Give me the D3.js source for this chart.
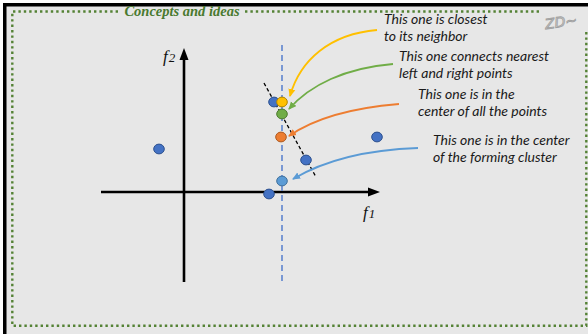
<!DOCTYPE html>
<meta charset="utf-8">
<head>
  <script src="https://d3js.org/d3.v7.min.js"></script>
  <style>
    body { margin: 0; background: #fff; }
    .note { font-family: Lato, "Open Sans", sans-serif; font-style: italic; font-size: 14px; fill: #1a1a1a; }
    .axisLabel { font-family: "Liberation Serif", serif; font-style: italic; fill: #111; }
  </style>
</head>
<body>
  <div id="chart"></div>
  <script>

    // points in the (f1, f2) plane
    var pointF1 = [-2.5, 8.5, 9.0, 9.8, 9.8, 9.7, 12.2, 9.8, 19.3];
    var pointF2 = [4.3, -0.2, 9.0, 9.0, 7.8, 5.5, 3.2, 1.1, 5.5];
    var pointKind = ["point", "point", "point", "closest", "connect", "centroid", "point", "cluster", "point"];

    // the vertical dashed guide and the black dashed fit line
    var guideF1 = 9.8;
    var guideF2 = [14.7, -9.1];
    var fitF1 = [8.0, 13.2];
    var fitF2 = [10.9, 1.5];

    // axis extent
    var axisF1 = [-8.3, 19.6];
    var axisF2 = [-9.0, 14.4];

    // notes and their curved arrows (start, control 1, control 2, end)
    var noteKind = ["closest", "connect", "centroid", "cluster"];
    var noteLines = [
      ["This one is closest", "to its neighbor"],
      ["This one connects nearest", "left and right points"],
      ["This one is in the", "center of all the points"],
      ["This one is in the center", "of the forming cluster"]
    ];
    var noteF1 = [20.0, 21.5, 23.4, 24.9];
    var noteF2 = [16.8, 13.1, 9.3, 4.7];
    var arrowF1 = [
      [19.3, 14.6, 11.6, 10.6],
      [20.9, 16.1, 12.6, 10.5],
      [21.5, 16.6, 12.8, 10.5],
      [23.4, 17.6, 13.6, 10.9]
    ];
    var arrowF2 = [
      [16.2, 15.8, 13.2, 9.6],
      [12.8, 12.4, 10.7, 8.3],
      [8.8, 8.4, 7.2, 5.6],
      [4.4, 4.2, 2.9, 1.3]
    ];

    var fillColor = { point: "#4472c4", closest: "#ffc000", connect: "#70ad47", centroid: "#ed7d31", cluster: "#5b9bd5" };
    var edgeColor = { point: "#2f528f", closest: "#b08600", connect: "#4e7a31", centroid: "#ae5a21", cluster: "#41719c" };
    var arrowColor = { closest: "#ffc000", connect: "#70ad47", centroid: "#ed7d31", cluster: "#5b9bd5" };

    var width = 588, height = 334;

    var svg = d3.select("#chart")
      .append("svg")
      .attr("width", width)
      .attr("height", height);

    // frame
    svg.append("rect").attr("x", 3).attr("y", 3).attr("width", width - 3).attr("height", height - 3).attr("fill", "#e7e7e7");
    svg.append("rect").attr("x", 3).attr("y", 3).attr("width", width - 3).attr("height", 3.5).attr("fill", "#000");
    svg.append("rect").attr("x", 3).attr("y", 3).attr("width", 3.5).attr("height", height - 3).attr("fill", "#000");

    function dots(sel) {
      return sel.attr("stroke", "#548235").attr("stroke-width", 2.4)
        .attr("stroke-dasharray", "2.4 3").attr("fill", "none");
    }
    dots(svg.append("path").attr("d", "M118,11.5 H12.3 V325.7 H586.3 V32"));
    dots(svg.append("path").attr("d", "M245,11.5 H542"));

    svg.append("text")
      .attr("x", 182).attr("y", 16)
      .attr("text-anchor", "middle")
      .style("font-family", "'Liberation Serif', serif")
      .style("font-style", "italic").style("font-weight", "bold")
      .style("font-size", "14.5px")
      .attr("fill", "#4a7a30")
      .text("Concepts and ideas");

    svg.append("text")
      .attr("x", 561).attr("y", 27)
      .attr("text-anchor", "middle")
      .style("font-family", "'DejaVu Sans', sans-serif")
      .style("font-style", "italic")
      .style("font-size", "14px")
      .attr("fill", "none").attr("stroke", "#a0a0a0").attr("stroke-width", 0.9)
      .attr("transform", "rotate(-8,561,22)")
      .text("ZD~");

    // scales: one unit is 10 px, origin where the axes cross
    var x = d3.scaleLinear().domain([0, 10]).range([184, 284]);
    var y = d3.scaleLinear().domain([0, 10]).range([192, 92]);

    var defs = svg.append("defs");
    defs.append("marker")
      .attr("id", "axisHead").attr("markerUnits", "userSpaceOnUse")
      .attr("viewBox", "0 -5 12 10").attr("refX", 0).attr("refY", 0)
      .attr("markerWidth", 12).attr("markerHeight", 10).attr("orient", "auto")
      .append("path").attr("d", "M0,-4.5L12,0L0,4.5Z").attr("fill", "#000");

    noteKind.forEach(function (k) {
      defs.append("marker")
        .attr("id", "head-" + k).attr("markerUnits", "userSpaceOnUse")
        .attr("viewBox", "0 -4 8 8").attr("refX", 7).attr("refY", 0)
        .attr("markerWidth", 8).attr("markerHeight", 8).attr("orient", "auto")
        .append("path").attr("d", "M0,-3.5L8,0L0,3.5Z").attr("fill", arrowColor[k]);
    });

    // axes with arrow heads (line stops where the head starts)
    svg.append("line")
      .attr("x1", x(axisF1[0])).attr("y1", y(0))
      .attr("x2", x(axisF1[1]) - 12).attr("y2", y(0))
      .attr("stroke", "#000").attr("stroke-width", 2.6)
      .attr("marker-end", "url(#axisHead)");
    svg.append("line")
      .attr("x1", x(0)).attr("y1", y(axisF2[0]))
      .attr("x2", x(0)).attr("y2", y(axisF2[1]) + 12)
      .attr("stroke", "#000").attr("stroke-width", 2.6)
      .attr("marker-end", "url(#axisHead)");

    var f2 = svg.append("text").attr("class", "axisLabel")
      .attr("x", x(-2.1)).attr("y", y(13.0)).style("font-size", "17px");
    f2.append("tspan").text("f");
    f2.append("tspan").style("font-size", "13px").attr("dx", 1).text("2");

    var f1 = svg.append("text").attr("class", "axisLabel")
      .attr("x", x(17.9)).attr("y", y(-2.6)).style("font-size", "17px");
    f1.append("tspan").text("f");
    f1.append("tspan").style("font-size", "13px").attr("dx", 1).text("1");

    // guides
    svg.append("line")
      .attr("x1", x(guideF1)).attr("y1", y(guideF2[0]))
      .attr("x2", x(guideF1)).attr("y2", y(guideF2[1]))
      .attr("stroke", "#6d8fd1").attr("stroke-width", 1.8)
      .attr("stroke-dasharray", "6 4");
    svg.append("line")
      .attr("x1", x(fitF1[0])).attr("y1", y(fitF2[0]))
      .attr("x2", x(fitF1[1])).attr("y2", y(fitF2[1]))
      .attr("stroke", "#000").attr("stroke-width", 1.3)
      .attr("stroke-dasharray", "3.5 2.5");

    // points
    var pts = pointF1.map(function (v, i) { return { f1: v, f2: pointF2[i], kind: pointKind[i] }; });
    svg.selectAll(".pt")
      .data(pts)
      .enter()
      .append("ellipse")
      .attr("class", "pt")
      .attr("cx", function (d) { return x(d.f1); })
      .attr("cy", function (d) { return y(d.f2); })
      .attr("rx", 5.3).attr("ry", 4.9)
      .attr("fill", function (d) { return fillColor[d.kind]; })
      .attr("stroke", function (d) { return edgeColor[d.kind]; })
      .attr("stroke-width", 1);

    // curved arrows
    noteKind.forEach(function (k, i) {
      var ax = arrowF1[i].map(x), ay = arrowF2[i].map(y);
      var p = d3.path();
      p.moveTo(ax[0], ay[0]);
      p.bezierCurveTo(ax[1], ay[1], ax[2], ay[2], ax[3], ay[3]);
      svg.append("path")
        .attr("d", p.toString())
        .attr("fill", "none")
        .attr("stroke", arrowColor[k]).attr("stroke-width", 1.8)
        .attr("marker-end", "url(#head-" + k + ")");
    });

    // notes
    noteLines.forEach(function (lines, i) {
      var t = svg.append("text").attr("class", "note")
        .attr("x", x(noteF1[i])).attr("y", y(noteF2[i]));
      lines.forEach(function (s, j) {
        t.append("tspan").attr("x", x(noteF1[i])).attr("dy", j === 0 ? 0 : 17).text(s);
      });
    });

  </script>
</body>
